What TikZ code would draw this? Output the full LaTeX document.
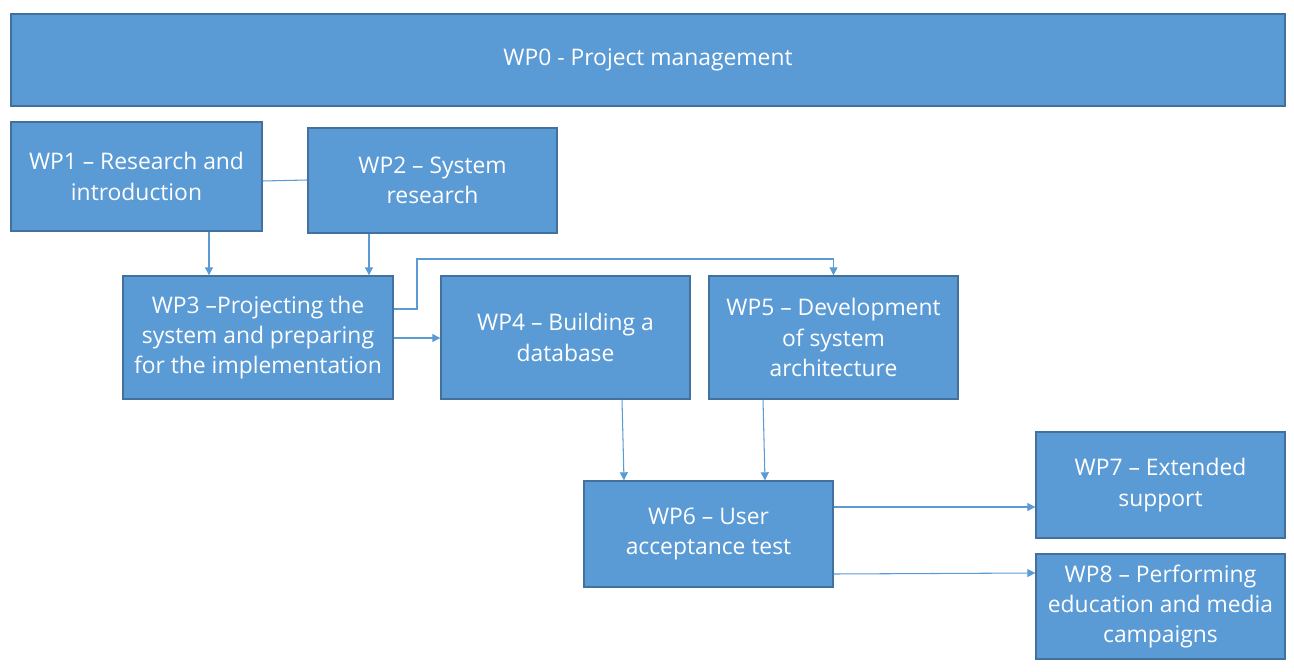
\documentclass[tikz,border=0pt]{standalone}
\usepackage{fontspec}
\setmainfont{Open Sans}
\usepackage{tikz}
\usetikzlibrary {arrows.meta}

\definecolor{wpfill}{HTML}{5B9BD5}
\definecolor{wpline}{HTML}{41719C}

\tikzset{
  wpbox/.style={draw=wpline, line width=0.8pt, fill=wpfill, text=white, align=center,
    inner sep=0pt, font=\fontsize{13}{17.2}\selectfont},
  wplink/.style={draw=wpfill, line width=0.6pt},
  wparrow/.style={wplink, -{Triangle[length=1.6mm,width=1.6mm]}}
}

\begin{document}
\begin{tikzpicture}[x=0.02cm, y=-0.02cm]
        \useasboundingbox (0,0) rectangle (1294,672);
        % work packages
        \node [wpbox, minimum width=25.48cm, minimum height=1.84cm] (wp0) at (648,60) {WP0 - Project management};
        \node [wpbox, minimum width=5.02cm, minimum height=2.18cm] (wp1) at (136.5,176.5) {WP1 -- Research and\\introduction};
        \node [wpbox, minimum width=4.98cm, minimum height=2.1cm] (wp2) at (432.5,180.5) {WP2 -- System\\research};
        \node [wpbox, minimum width=5.4cm, minimum height=2.46cm] (wp3) at (258,337.5) {WP3 --Projecting the\\system and preparing\\for the implementation};
        \node [wpbox, minimum width=4.98cm, minimum height=2.46cm] (wp4) at (565.5,337.5) {WP4 -- Building a\\database};
        \node [wpbox, minimum width=4.98cm, minimum height=2.46cm] (wp5) at (833.5,337.5) {WP5 -- Development\\of system\\architecture};
        \node [wpbox, minimum width=4.98cm, minimum height=2.12cm] (wp6) at (708.5,534) {WP6 -- User\\acceptance test};
        \node [wpbox, minimum width=4.98cm, minimum height=2.12cm] (wp7) at (1160.5,485) {WP7 -- Extended\\support};
        \node [wpbox, minimum width=4.98cm, minimum height=2.1cm] (wp8) at (1160.5,606.5) {WP8 -- Performing\\education and media\\campaigns};
        % links
        \draw [wplink] (wp1.east |- 0,181) -- (wp2.west |- 0,180);
        \draw [wparrow] (wp1.south -| 209,0) -- (wp3.north -| 209,0);
        \draw [wparrow] (wp2.south -| 369,0) -- (wp3.north -| 369,0);
        \draw [wparrow] (wp3.east |- 0,309) -| (417,259) -| (wp5.north);
        \draw [wparrow] (wp3.east |- 0,338) -- (wp4.west |- 0,338);
        \draw [wparrow] (wp4.south -| 622,0) -- (wp6.north -| 624,0);
        \draw [wparrow] (wp5.south -| 763,0) -- (wp6.north -| 765,0);
        \draw [wparrow] (wp6.east |- 0,507) -- (wp7.west |- 0,507);
        \draw [wparrow] (wp6.east |- 0,574) -- (wp8.west |- 0,573);
\end{tikzpicture}
\end{document}
